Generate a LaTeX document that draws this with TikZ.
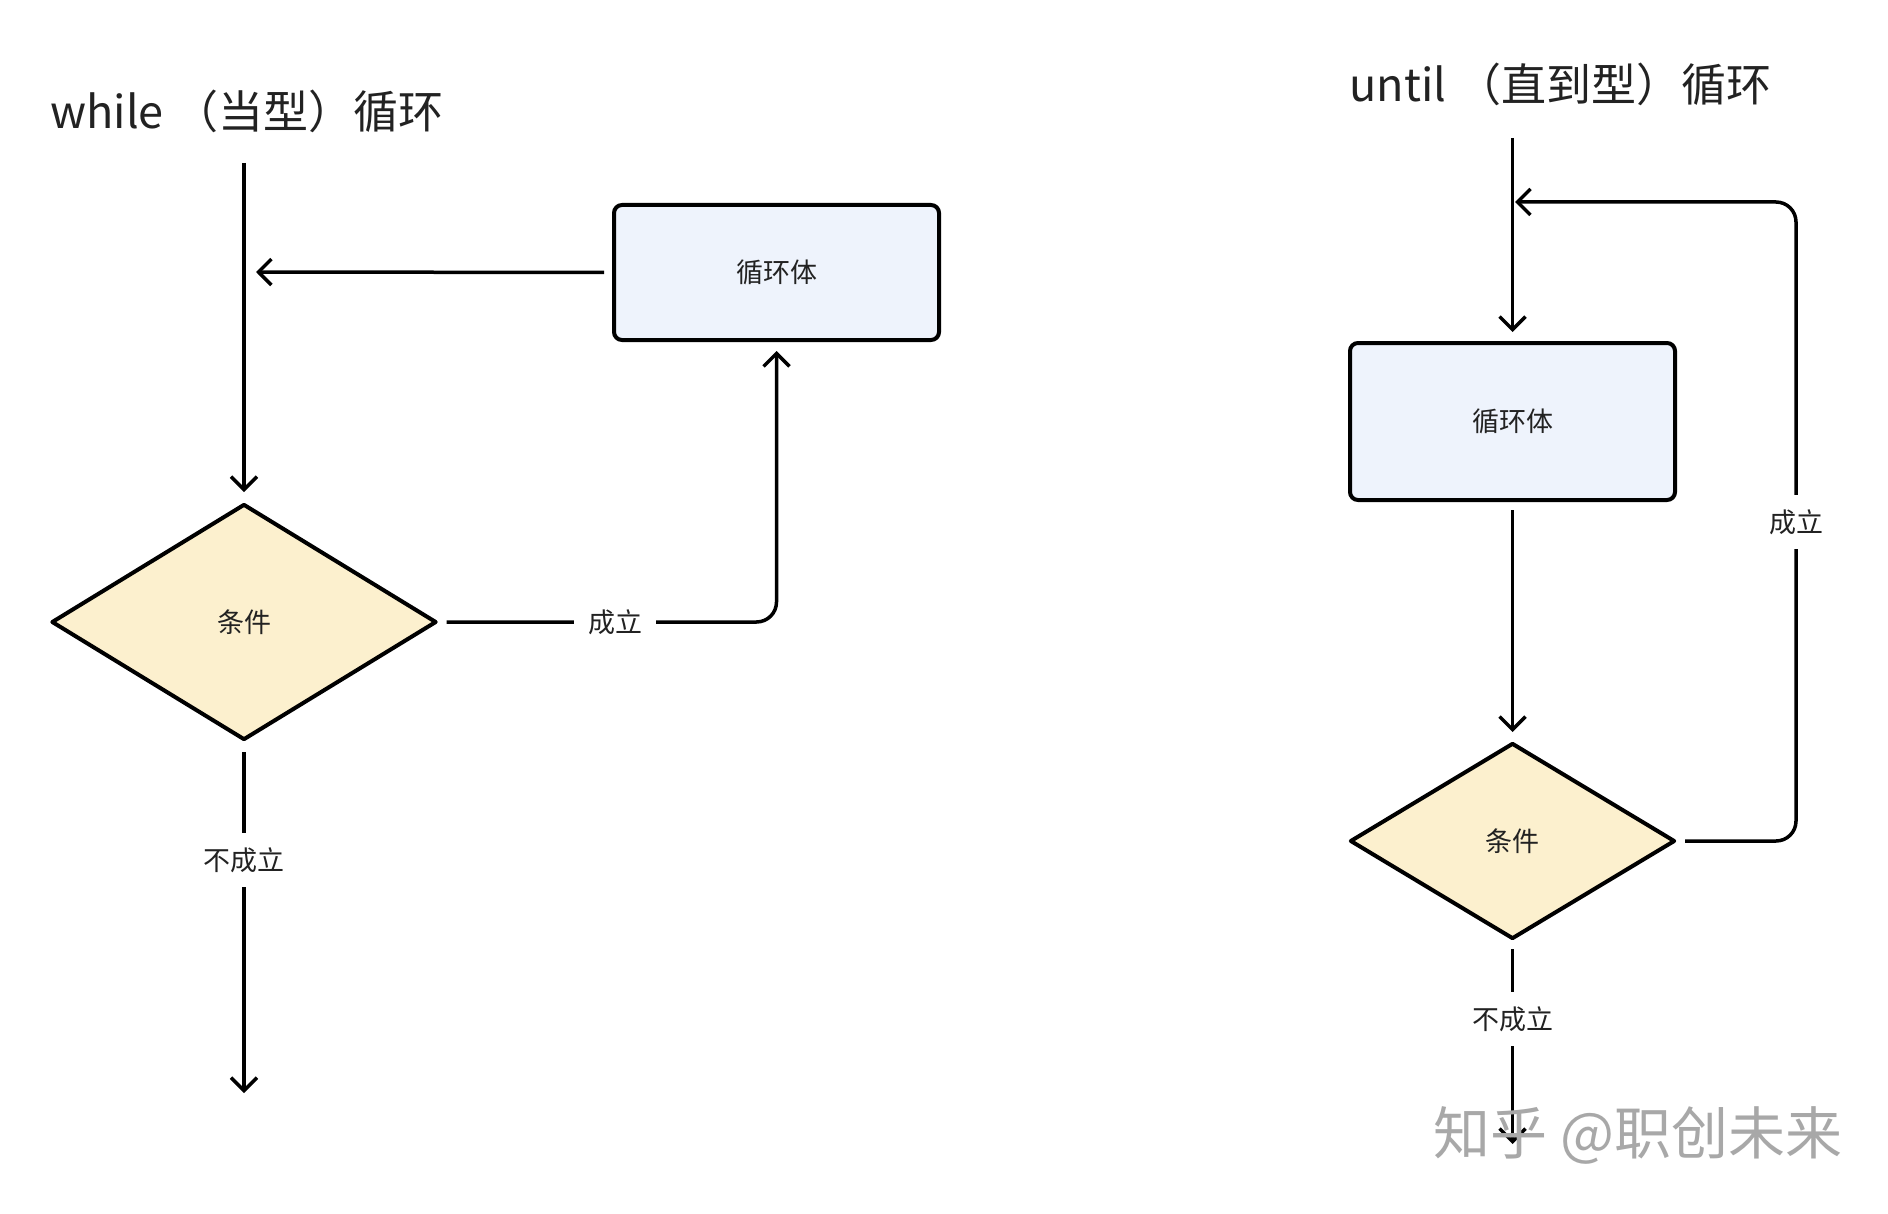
\documentclass[tikz,border=0pt]{standalone}
\usepackage{fontspec}
\setmainfont{Noto Sans CJK SC}
\usetikzlibrary{shapes.geometric,arrows.meta}
\definecolor{txt}{HTML}{222222}
\definecolor{boxfill}{HTML}{EEF3FC}
\definecolor{condfill}{HTML}{FCF0CE}
\definecolor{wm}{HTML}{A8A8A8}
\tikzset{
  procbox/.style={draw=black, line width=2pt, fill=boxfill, rounded corners=4pt,
    minimum width=162.5pt, inner sep=0pt, font=\fontsize{13.5}{16}\selectfont, text=txt},
  condbox/.style={diamond, draw=black, line width=2pt, fill=condfill, line join=round,
    inner sep=0pt, font=\fontsize{13.5}{16}\selectfont, text=txt},
  flow/.style={draw=black, line width=1.75pt, -{Straight Barb[length=6.5pt,width=13pt,line width=1.75pt]}},
  lbl/.style={fill=white, inner sep=7pt, font=\fontsize{13.5}{16}\selectfont, text=txt},
  ttl/.style={anchor=west, inner sep=0pt, font=\fontsize{22.5}{27}\selectfont, text=txt},
}
\begin{document}
\begin{tikzpicture}[x=0.5pt, y=-0.5pt]
\useasboundingbox[fill=white] (0,0) rectangle (1888,1214);

% ---------- while loop ----------
\node[ttl] (t1) at (50,111) {while （当型）循环};
\coordinate (s1) at (244,163);
\node[condbox, minimum width=192.5pt, minimum height=118pt] (d1) at (244,622) {条件};
\node[procbox, minimum height=67.5pt] (r1) at (776.5,272.5) {循环体};
\coordinate (m1) at (256,272);
\coordinate (e1) at (244,1093);

\draw[flow, shorten >=5pt] (s1) -- (d1.north);
\draw[flow, shorten <=4pt] (r1.west) -- (m1);
\draw[flow, rounded corners=10pt, shorten <=4pt, shorten >=4.5pt]
  (d1.east) -- (r1.south |- d1.east) -- (r1.south);
\node[lbl] (l1) at (615,622) {成立};
\draw[flow, shorten <=5pt] (d1.south) -- (e1);
\node[lbl] (l2) at (244,860) {不成立};

% ---------- until loop ----------
\node[ttl] (t2) at (1349,84) {until （直到型）循环};
\coordinate (s2) at (1512.5,138);
\node[procbox, minimum height=78.5pt] (r2) at (1512.5,421.5) {循环体};
\node[condbox, minimum width=162.5pt, minimum height=98pt] (d2) at (1512.5,841) {条件};
\coordinate (m2) at (1515,202);
\coordinate (c2) at (1796,841);
\coordinate (e2) at (1512.5,1144);

\draw[flow, shorten >=4.5pt] (s2) -- (r2.north);
\draw[flow, shorten <=4pt, shorten >=4.5pt] (r2.south) -- (d2.north);
\draw[flow, rounded corners=10pt, shorten <=4pt]
  (d2.east) -- (c2) -- (c2 |- m2) -- (m2);
\node[lbl] (l3) at (1796,522) {成立};
\draw[flow, shorten <=4pt] (d2.south) -- (e2);
\node[lbl] (l4) at (1512.5,1019) {不成立};

% ---------- watermark ----------
\node[anchor=west, inner sep=0pt, text=wm, font=\fontsize{28.5}{32}\selectfont] (wmk) at (1433,1135) {知乎 @职创未来};
\end{tikzpicture}
\end{document}
